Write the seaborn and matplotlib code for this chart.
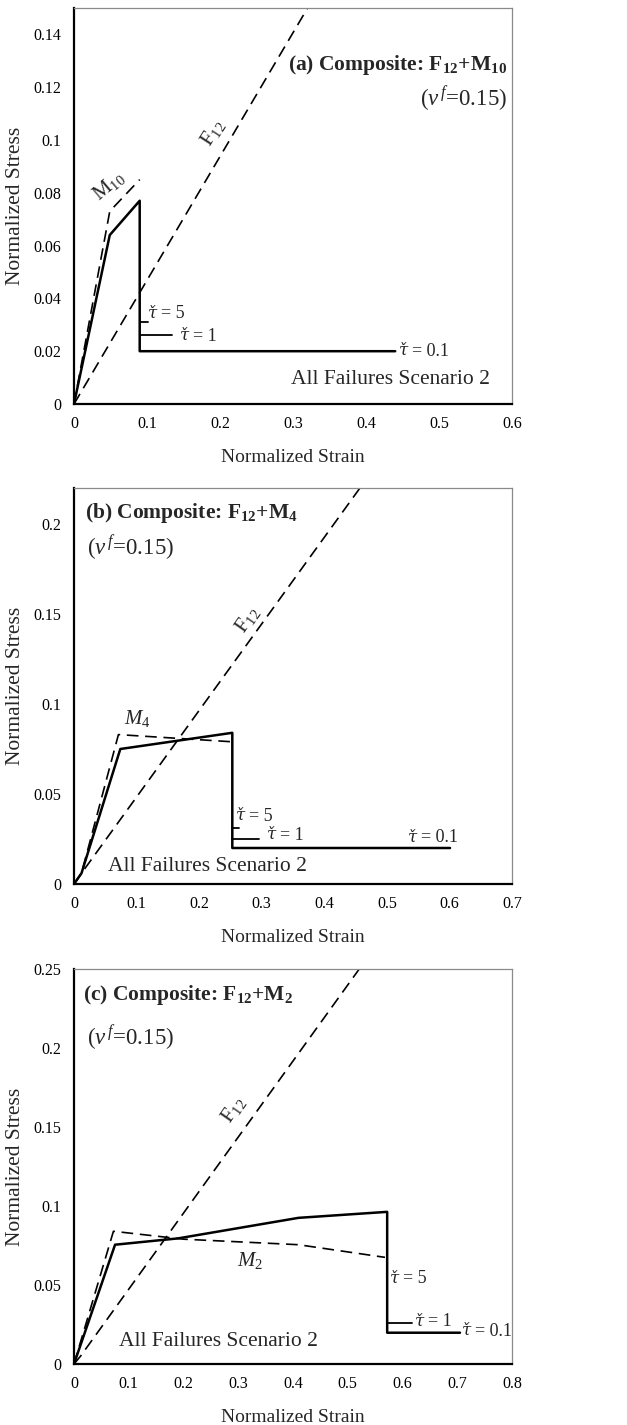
import matplotlib
matplotlib.use("Agg")
import matplotlib.pyplot as plt
import seaborn as sns
import pandas as pd

# ---- panel (a): F12 + M10 ----
a_fiber_strain = [0.0, 0.32]
a_fiber_stress = [0.0, 0.15]
a_matrix_strain = [0.0, 0.049, 0.090]
a_matrix_stress = [0.0, 0.073, 0.085]
a_comp_strain = [0.0, 0.049, 0.090]
a_comp_stress = [0.0, 0.064, 0.077]
a_tau_levels = [0.031, 0.026, 0.020]      # residual stress for tau = 5, 1, 0.1
a_tau_end = [0.101, 0.134, 0.440]
a_yticks = [0, 0.02, 0.04, 0.06, 0.08, 0.1, 0.12, 0.14]
a_xticks = [0, 0.1, 0.2, 0.3, 0.4, 0.5, 0.6]

# ---- panel (b): F12 + M4 ----
b_fiber_strain = [0.0, 0.012, 0.457]
b_fiber_stress = [0.0, 0.006, 0.220]
b_matrix_strain = [0.0, 0.012, 0.071, 0.253]
b_matrix_stress = [0.0, 0.006, 0.083, 0.079]
b_comp_strain = [0.0, 0.012, 0.074, 0.253]
b_comp_stress = [0.0, 0.006, 0.075, 0.084]
b_tau_levels = [0.031, 0.025, 0.020]
b_tau_end = [0.264, 0.296, 0.601]
b_yticks = [0, 0.05, 0.1, 0.15, 0.2]
b_xticks = [0, 0.1, 0.2, 0.3, 0.4, 0.5, 0.6, 0.7]

# ---- panel (c): F12 + M2 ----
c_fiber_strain = [0.0, 0.012, 0.521]
c_fiber_stress = [0.0, 0.005, 0.250]
c_matrix_strain = [0.0, 0.072, 0.200, 0.410, 0.568]
c_matrix_stress = [0.0, 0.084, 0.079, 0.0755, 0.0675]
c_comp_strain = [0.0, 0.075, 0.190, 0.300, 0.410, 0.572]
c_comp_stress = [0.0, 0.0755, 0.0795, 0.086, 0.0925, 0.0963]
c_tau_levels = [0.0257, 0.0198]
c_tau_end = [0.617, 0.705]
c_yticks = [0, 0.05, 0.1, 0.15, 0.2, 0.25]
c_xticks = [0, 0.1, 0.2, 0.3, 0.4, 0.5, 0.6, 0.7, 0.8]

sns.set_theme(style="white")
SERIF = ["Liberation Serif", "DejaVu Serif"]
plt.rcParams["font.family"] = SERIF
plt.rcParams["mathtext.fontset"] = "custom"
plt.rcParams["mathtext.rm"] = "Liberation Serif"
plt.rcParams["mathtext.it"] = "Liberation Serif:italic"
plt.rcParams["mathtext.bf"] = "Liberation Serif:bold"

fig = plt.figure(figsize=(6.27, 14.25), dpi=100)

axes_rects = [
    [74 / 627, 1021 / 1425, 438 / 627, 396 / 1425],
    [74 / 627, 541 / 1425, 438 / 627, 396 / 1425],
    [74 / 627, 61 / 1425, 438 / 627, 395 / 1425],
]


def line(ax, xs, ys, dashed=False, lw=1.5):
    df = pd.DataFrame({"x": xs, "y": ys})
    sns.lineplot(data=df, x="x", y="y", ax=ax, sort=False, estimator=None,
                 color="black", lw=lw, linestyle=(0, (7, 4)) if dashed else "-",
                 legend=False)


def fmt(v):
    return "0" if v == 0 else f"{v:g}"


def style_axes(ax, xticks, yticks, ymax):
    ax.set_xticks(xticks)
    ax.set_xticklabels([fmt(v) for v in xticks])
    ax.set_yticks(yticks)
    ax.set_yticklabels([fmt(v) for v in yticks])
    ax.set_xlim(0, xticks[-1])
    ax.set_ylim(0, ymax)
    ax.tick_params(axis="both", direction="out", length=5, width=1.2,
                   labelsize=11.5, colors="black", pad=4)
    for s in ["left", "bottom"]:
        ax.spines[s].set_color("black")
        ax.spines[s].set_linewidth(1.6)
    for s in ["top", "right"]:
        ax.spines[s].set_color("#8a8a8a")
        ax.spines[s].set_linewidth(0.9)
    ax.set_xlabel("Normalized Strain", fontsize=14, labelpad=12)
    ax.set_ylabel("Normalized Stress", fontsize=15.5, labelpad=6)


def draw_panel(ax, fs, fy, ms, my, cs, cy, levels, ends):
    line(ax, fs, fy, dashed=True, lw=1.2)
    line(ax, ms, my, dashed=True, lw=1.2)
    xf = cs[-1]
    # lowest residual level carries the full curve with the drop
    line(ax, cs + [xf, ends[-1]], cy + [levels[-1], levels[-1]], lw=1.8)
    for lv, e in zip(levels[:-1], ends[:-1]):
        line(ax, [xf, e], [lv, lv], lw=1.3)


def tau_label(ax, x, y, value):
    # italic tau with a combining caron, followed by an upright "= value"
    ax.annotate("\u03c4\u030c", xy=(x, y), xycoords="axes fraction",
                ha="left", va="center", fontsize=12, fontstyle="italic",
                family=["DejaVu Serif"])
    ax.annotate("= " + value, xy=(x, y), xycoords="axes fraction",
                xytext=(13, -1), textcoords="offset pixels",
                ha="left", va="center", fontsize=13, family=SERIF)


# panel (a)
ax = fig.add_axes(axes_rects[0])
draw_panel(ax, a_fiber_strain, a_fiber_stress, a_matrix_strain, a_matrix_stress,
           a_comp_strain, a_comp_stress, a_tau_levels, a_tau_end)
style_axes(ax, a_xticks, a_yticks, 0.15)
T = ax.transAxes
ax.text(0.989, 0.856, r"(a) Composite: $\mathbf{F_{12}}$+$\mathbf{M_{10}}$",
        transform=T, ha="right", va="center", fontsize=15.5, fontweight="bold")
ax.text(0.989, 0.768, r"($\nu^{\,f}$=0.15)", transform=T, ha="right",
        va="center", fontsize=16.5)
ax.text(0.950, 0.061, "All Failures Scenario 2", transform=T, ha="right",
        va="center", fontsize=15.5)
ax.text(0.317, 0.684, r"F$_{12}$", transform=T, ha="center", va="center",
        fontsize=15, rotation=57)
ax.text(0.080, 0.552, r"M$_{10}$", transform=T, ha="center", va="center",
        fontsize=15, rotation=40)
tau_label(ax, 0.169, 0.230, "5")
tau_label(ax, 0.242, 0.174, "1")
tau_label(ax, 0.742, 0.136, "0.1")

# panel (b)
ax = fig.add_axes(axes_rects[1])
draw_panel(ax, b_fiber_strain, b_fiber_stress, b_matrix_strain, b_matrix_stress,
           b_comp_strain, b_comp_stress, b_tau_levels, b_tau_end)
style_axes(ax, b_xticks, b_yticks, 0.22)
T = ax.transAxes
ax.text(0.025, 0.937, r"(b) Composite: $\mathbf{F_{12}}$+$\mathbf{M_{4}}$",
        transform=T, ha="left", va="center", fontsize=15.5, fontweight="bold")
ax.text(0.030, 0.848, r"($\nu^{\,f}$=0.15)", transform=T, ha="left",
        va="center", fontsize=16.5)
ax.text(0.078, 0.043, "All Failures Scenario 2", transform=T, ha="left",
        va="center", fontsize=15.5)
ax.text(0.395, 0.667, r"F$_{12}$", transform=T, ha="center", va="center",
        fontsize=15, rotation=55)
ax.text(0.144, 0.419, r"$M_{4}$", transform=T, ha="center", va="center",
        fontsize=15)
tau_label(ax, 0.370, 0.174, "5")
tau_label(ax, 0.441, 0.126, "1")
tau_label(ax, 0.763, 0.119, "0.1")

# panel (c)
ax = fig.add_axes(axes_rects[2])
draw_panel(ax, c_fiber_strain, c_fiber_stress, c_matrix_strain, c_matrix_stress,
           c_comp_strain, c_comp_stress, c_tau_levels, c_tau_end)
style_axes(ax, c_xticks, c_yticks, 0.25)
T = ax.transAxes
ax.text(0.021, 0.934, r"(c) Composite: $\mathbf{F_{12}}$+$\mathbf{M_{2}}$",
        transform=T, ha="left", va="center", fontsize=15.5, fontweight="bold")
ax.text(0.030, 0.825, r"($\nu^{\,f}$=0.15)", transform=T, ha="left",
        va="center", fontsize=16.5)
ax.text(0.103, 0.056, "All Failures Scenario 2", transform=T, ha="left",
        va="center", fontsize=15.5)
ax.text(0.363, 0.643, r"F$_{12}$", transform=T, ha="center", va="center",
        fontsize=15, rotation=55)
ax.text(0.402, 0.263, r"$M_{2}$", transform=T, ha="center", va="center",
        fontsize=15)
tau_label(ax, 0.721, 0.218, "5")
tau_label(ax, 0.779, 0.109, "1")
tau_label(ax, 0.886, 0.086, "0.1")

fig.savefig("out.png", dpi=100, facecolor="white")
